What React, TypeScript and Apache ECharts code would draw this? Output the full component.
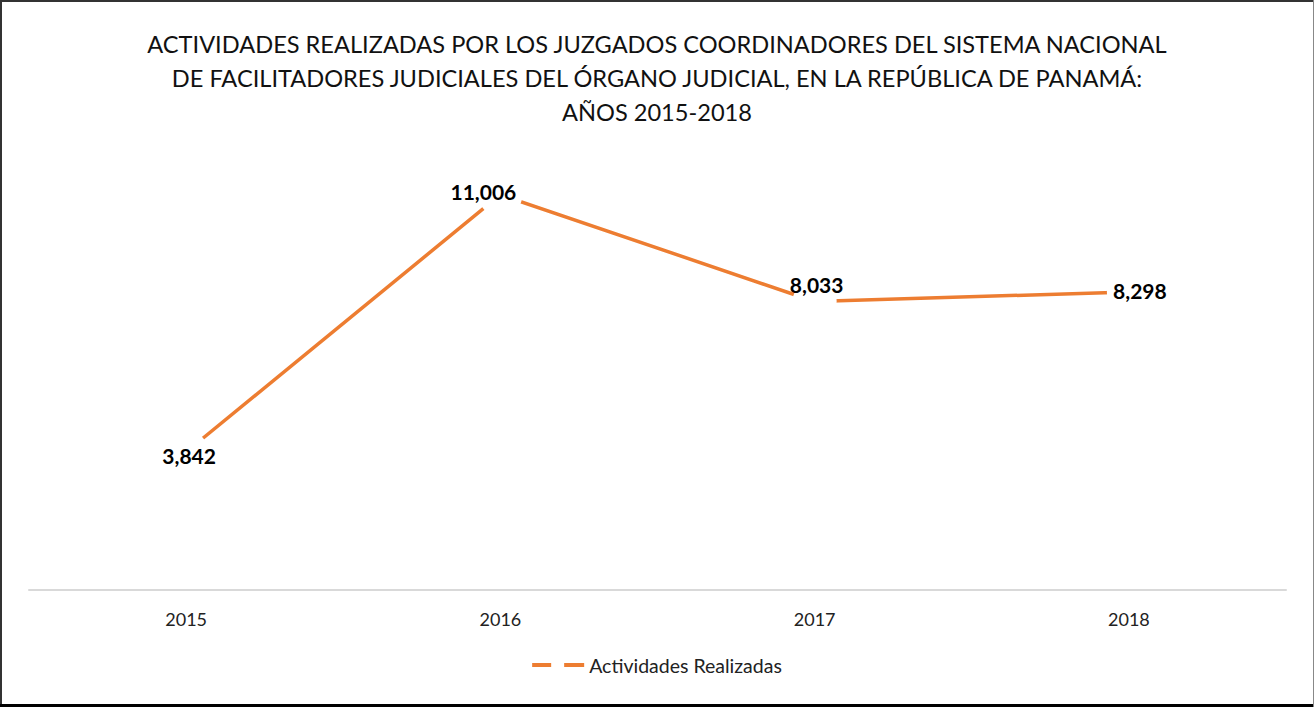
import React, { useEffect, useRef } from "react";
import * as echarts from "echarts";

const titleLines = [
  "ACTIVIDADES REALIZADAS POR LOS JUZGADOS COORDINADORES DEL SISTEMA NACIONAL",
  "DE FACILITADORES JUDICIALES DEL ÓRGANO JUDICIAL, EN LA REPÚBLICA DE PANAMÁ:",
  "AÑOS 2015-2018",
];
const years = ["2015", "2016", "2017", "2018"];
const actividades = [3842, 11006, 8033, 8298];
const seriesName = "Actividades Realizadas";
const labelOffsets: [number, number][] = [[3, 3], [-17, -3], [2, -17], [11, -1]];

export default function App() {
  const ref = useRef<HTMLDivElement>(null);
  useEffect(() => {
    document.body.style.margin = "0";
    const chart = echarts.init(ref.current!, null, { renderer: "svg" });
    const font = "Lato, 'Open Sans', sans-serif";
    chart.setOption({
      animation: false,
      backgroundColor: "#ffffff",
      title: {
        text: titleLines.join("\n"),
        left: "center",
        top: 22,
        textStyle: {
          fontFamily: font,
          fontSize: 23.6,
          fontWeight: "normal",
          color: "#111",
          lineHeight: 34,
          align: "center",
        },
      },
      legend: {
        bottom: 27,
        left: "center",
        icon: "path://M0,0h19v4h-19zM32,0h20v4h-20z",
        itemWidth: 52,
        itemHeight: 4,
        itemGap: 10,
        itemStyle: { color: "#ED7D31", borderWidth: 0 },
        textStyle: { fontFamily: font, fontSize: 19.5, color: "#222" },
        data: [seriesName],
      },
      grid: { left: 29, right: 28, top: 159, bottom: 117 },
      xAxis: {
        type: "category",
        data: years,
        boundaryGap: true,
        axisLine: { lineStyle: { color: "#d9d9d9", width: 2 } },
        axisTick: { show: false },
        axisLabel: { fontFamily: font, fontSize: 18, color: "#222", margin: 20 },
      },
      yAxis: {
        type: "value",
        min: 0,
        max: 12000,
        interval: 2000,
        show: false,
        splitLine: { show: false },
      },
      series: [
        {
          name: seriesName,
          type: "line",
          data: actividades.map((v, i) => ({
            value: v,
            label: { offset: labelOffsets[i] },
          })),
          symbol: "circle",
          symbolSize: 44,
          itemStyle: { color: "#ffffff", borderWidth: 0 },
          lineStyle: { color: "#ED7D31", width: 3.5 },
          emphasis: { disabled: true },
          label: {
            show: true,
            position: "inside",
            fontFamily: font,
            fontSize: 21,
            fontWeight: "bold",
            color: "#000",
            formatter: (p: any) => p.value.toLocaleString("en-US"),
          },
        },
      ],
      graphic: [
        { type: "rect", shape: { x: 0, y: 0, width: 1314, height: 2 }, style: { fill: "#333" } },
        { type: "rect", shape: { x: 0, y: 0, width: 2, height: 707 }, style: { fill: "#333" } },
        { type: "rect", shape: { x: 0, y: 704, width: 1314, height: 3 }, style: { fill: "#000" } },
        { type: "rect", shape: { x: 1313, y: 0, width: 1, height: 707 }, style: { fill: "#888" } },
      ],
    });
    return () => chart.dispose();
  }, []);
  return (
    <div
      ref={ref}
      style={{ position: "absolute", left: 0, top: 0, width: 1314, height: 707 }}
    />
  );
}
